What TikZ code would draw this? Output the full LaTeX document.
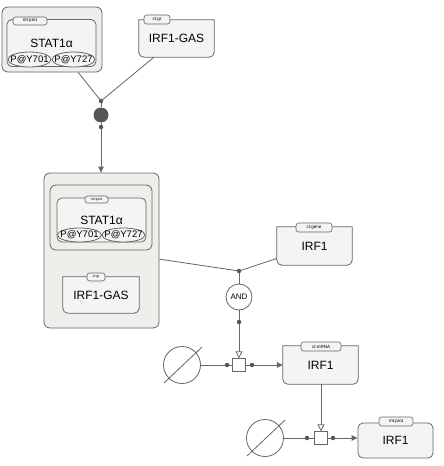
\documentclass[tikz,border=0pt]{standalone}
\usepackage{fontspec}
\setmainfont{Liberation Sans}
\usetikzlibrary{arrows.meta,shapes.geometric}

\definecolor{linegray}{HTML}{666666}
\definecolor{molfill}{HTML}{F4F4F4}
\definecolor{cplxfill}{HTML}{EEEEEA}
\definecolor{dotgray}{HTML}{555555}

\tikzset{
  glyph/.style={draw=linegray, line width=0.8pt},
  entitytext/.style={font=\fontsize{12}{12}\selectfont, inner sep=0pt},
  macro/.style={glyph, fill=molfill, rounded corners=5pt, inner sep=0pt, font=\fontsize{12}{12}\selectfont},
  cplx/.style={glyph, fill=cplxfill, rounded corners=6pt, inner sep=0pt},
  uinfo/.style={glyph, line width=0.6pt, fill=molfill, rounded corners=2.5pt, inner sep=0pt, font=\fontsize{4.5}{4.5}\selectfont},
  smallui/.style={uinfo, font=\fontsize{3.5}{3.5}\selectfont},
  svar/.style={glyph, ellipse, fill=molfill, inner sep=0pt, font=\fontsize{9.5}{9.5}\selectfont},
  port/.style={circle, fill=dotgray, inner sep=0pt, minimum size=4.5pt},
  assoc/.style={circle, fill=dotgray, inner sep=0pt, minimum size=15pt},
  logic/.style={glyph, circle, fill=white, inner sep=0pt, minimum size=26pt, font=\fontsize{8}{8}\selectfont},
  proc/.style={glyph, fill=white, inner sep=0pt, minimum size=12.5pt},
  sink/.style={glyph, circle, fill=white, inner sep=0pt, minimum size=37pt},
  flux/.style={draw=linegray, line width=0.8pt},
  prod/.style={flux, -{Triangle[length=6pt,width=5.5pt]}},
  stim/.style={flux, -{Triangle[open,length=7pt,width=7pt,fill=white]}},
}

% nucleic acid feature: square top, rounded bottom
\newcommand{\nafbox}[5]{%
  \node[minimum width=#3, minimum height=#4, inner sep=0pt] (#1) at (#2) {};
  \filldraw[glyph, fill=molfill] (#1.north west)
    -- ([yshift=5pt]#1.south west) arc[start angle=180, end angle=270, radius=5pt]
    -- ([xshift=-5pt]#1.south east) arc[start angle=270, end angle=360, radius=5pt]
    -- (#1.north east) -- cycle;
  \node[entitytext] (#1-label) at (#1) {#5};
}
% state variable text that does not widen its ellipse
\newcommand{\svtext}[1]{\makebox[0pt]{#1}}

\begin{document}
\begin{tikzpicture}[x=1pt, y=-1pt]
\useasboundingbox (0,0) rectangle (444,466);
              %top complex and gene region
\node[cplx, minimum width=100pt, minimum height=65pt] (topcx) at (52,39.5) {};
\node[macro, minimum width=89pt, minimum height=47pt] (stat1A) at (51.5,43) {STAT1α};
\node[uinfo, minimum width=34pt, minimum height=8pt] (stat1A-ui) at (30,21) {mt:prot};
\node[svar, minimum width=43pt, minimum height=15pt] (stat1A-y701) at (29.5,59.5) {\svtext{P@Y701}};
\node[svar, minimum width=43pt, minimum height=15pt] (stat1A-y727) at (73.5,59.5) {\svtext{P@Y727}};
\nafbox{gasA}{176.5,38.5}{75pt}{37pt}{IRF1-GAS}
\node[uinfo, minimum width=26pt, minimum height=9pt] (gasA-ui) at (157,19.5) {ct:gr};
              %bound complex
\node[cplx, minimum width=115pt, minimum height=155pt] (midcx) at (101.5,250.5) {};
\node[cplx, minimum width=102pt, minimum height=65pt] (stat1cx) at (101,217.5) {};
\node[macro, minimum width=89pt, minimum height=44pt] (stat1B) at (101.5,220) {STAT1α};
\node[smallui, minimum width=23pt, minimum height=7pt] (stat1B-ui) at (96.5,199.5) {mt:prot};
\node[svar, minimum width=44pt, minimum height=14pt] (stat1B-y701) at (79.5,235) {\svtext{P@Y701}};
\node[svar, minimum width=43pt, minimum height=14pt] (stat1B-y727) at (123.5,235) {\svtext{P@Y727}};
\nafbox{gasB}{101,295}{76pt}{36pt}{IRF1-GAS}
\node[smallui, minimum width=18pt, minimum height=8pt] (gasB-ui) at (96,277) {ct:gr};
              %gene, mRNA and protein
\nafbox{gene}{314.5,246}{75pt}{38pt}{IRF1}
\node[uinfo, minimum width=36pt, minimum height=9pt] (gene-ui) at (314,227.5) {ct:gene};
\nafbox{mrna}{320.5,365}{75pt}{38pt}{IRF1}
\node[uinfo, minimum width=40pt, minimum height=9pt] (mrna-ui) at (321,346.5) {ct:mRNA};
\node[macro, minimum width=75pt, minimum height=35pt] (prot) at (395.5,440.5) {IRF1};
\node[uinfo, minimum width=34pt, minimum height=9pt] (prot-ui) at (396,421.5) {mt:prot};
              %process glyphs
\node[assoc] (assoc1) at (101,115) {};
\node[logic] (and1) at (239,297) {AND};
\node[proc] (proc1) at (239,365) {};
\node[proc] (proc2) at (321,438) {};
\node[sink] (sink1) at (182,365) {};
\node[sink] (sink2) at (265,438) {};
\draw[glyph] ([shift={(-18,18)}]sink1.center) -- ([shift={(20,-18)}]sink1.center);
\draw[glyph] ([shift={(-18,18)}]sink2.center) -- ([shift={(20,-18)}]sink2.center);
\foreach \name/\pos in {p1/{101,101}, p2/{101,127}, p3/{239,271}, p4/{239,322},
                        p5/{227,365}, p6/{252,365}, p7/{307,438}, p8/{333,438}}{
\node[port] (\name) at (\pos) {};
}
              %arcs
\draw[flux] (topcx) -- (p1.center);
\draw[flux] (gasA) -- (p1.center);
\draw[flux] (p1) -- (assoc1) -- (p2);
\draw[prod] (p2) -- (p2 |- midcx.north);
\draw[flux] (midcx) -- (p3.center);
\draw[flux] (gene) -- (p3.center);
\draw[flux] (p3) -- (and1) -- (p4);
\draw[stim] (p4) -- (proc1);
\draw[flux] (sink1) -- (p5) -- (proc1) -- (p6);
\draw[prod] (p6) -- (p6 -| mrna.west);
\draw[stim] (proc2 |- mrna.south) -- (proc2);
\draw[flux] (sink2) -- (p7) -- (proc2) -- (p8);
\draw[prod] (p8) -- (p8 -| prot.west);
\end{tikzpicture}
\end{document}
